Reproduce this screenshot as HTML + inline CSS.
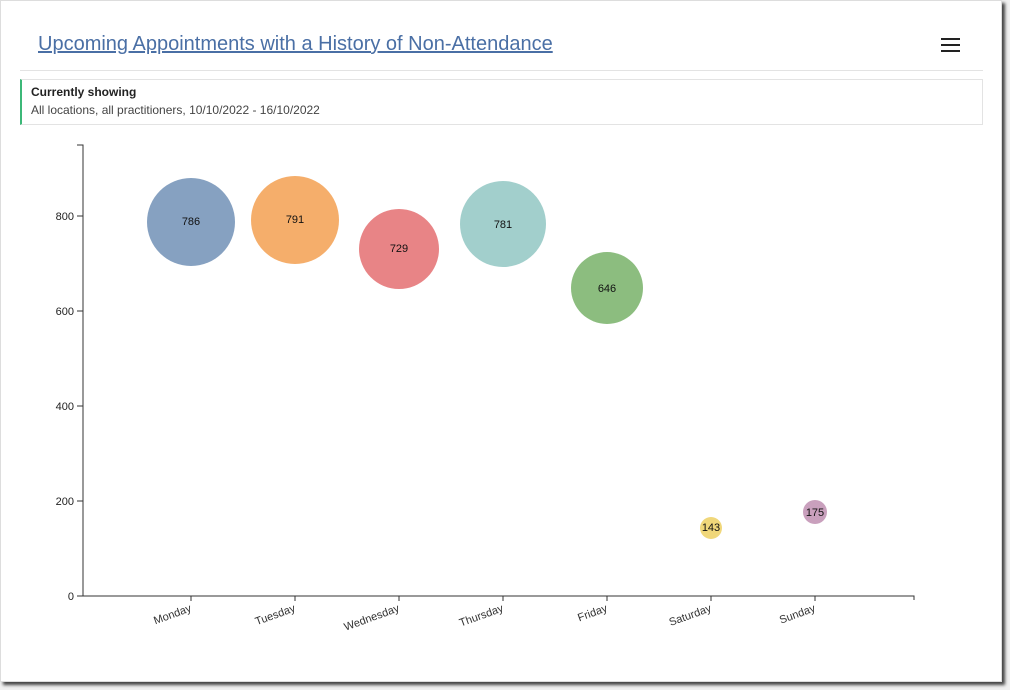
<!DOCTYPE html>
<html><head><meta charset="utf-8"><style>
body{margin:0;width:1010px;height:690px;background:#f0f0f0;position:relative;overflow:hidden;font-family:"Liberation Sans",sans-serif}
.card{position:absolute;left:0;top:0;width:1002px;height:682px;background:#fff;outline:1px solid #ddd;outline-offset:-1px;box-shadow:3px 3px 3px #444}
.title{position:absolute;left:38px;top:33px;font-size:20px;color:#4a6fa5;text-decoration:underline;font-weight:300;letter-spacing:0px}
.hr{position:absolute;left:20px;top:70px;width:963px;height:1px;background:#e3e3e3}
.menu{position:absolute;left:941px;top:38px;width:19px}
.menu div{height:2px;background:#222;margin-bottom:4px}
.info{position:absolute;left:20px;top:79px;width:963px;height:46px;border:1px solid #e3e3e3;border-left:2px solid #3cb878;box-sizing:border-box}
.info b{position:absolute;left:9px;top:5px;font-size:12px;color:#222}
.info span{position:absolute;left:9px;top:23px;font-size:12px;color:#444}
</style></head><body>
<div class="card">
<div class="title">Upcoming Appointments with a History of Non-Attendance</div>
<div class="menu"><div></div><div></div><div></div></div>
<div class="hr"></div>
<div class="info"><b>Currently showing</b><span>All locations, all practitioners, 10/10/2022 - 16/10/2022</span></div>
<svg width="1002" height="682" style="position:absolute;left:0;top:0" font-family="Liberation Sans, sans-serif" font-size="11">
<g stroke="#333" fill="none">
<path d="M77 145H83V596H914V600"/>
<path d="M77 216H83M77 311H83M77 406H83M77 501H83M77 596H83"/>
<path d="M191 596v5M295 596v5M399 596v5M503 596v5M607 596v5M711 596v5M815 596v5"/>
</g>
<g text-anchor="end" fill="#222">
<text x="74" y="220">800</text><text x="74" y="315">600</text><text x="74" y="410">400</text><text x="74" y="505">200</text><text x="74" y="600">0</text>
</g>
<g text-anchor="end" fill="#333" font-size="11">
<text transform="translate(192,611) rotate(-20)">Monday</text>
<text transform="translate(296,611) rotate(-20)">Tuesday</text>
<text transform="translate(400,611) rotate(-20)">Wednesday</text>
<text transform="translate(504,611) rotate(-20)">Thursday</text>
<text transform="translate(608,611) rotate(-20)">Friday</text>
<text transform="translate(712,611) rotate(-20)">Saturday</text>
<text transform="translate(816,611) rotate(-20)">Sunday</text>
</g>
<circle cx="191" cy="222" r="44" fill="#86a1c1"/>
<circle cx="295" cy="220" r="44" fill="#f5ae6b"/>
<circle cx="399" cy="249" r="40" fill="#e88486"/>
<circle cx="503" cy="224" r="43" fill="#a2cfcc"/>
<circle cx="607" cy="288" r="36" fill="#8cbd7f"/>
<circle cx="711" cy="528" r="11" fill="#f0d77a"/>
<circle cx="815" cy="512" r="12" fill="#c9a0bd"/>
<g text-anchor="middle" fill="#111">
<text x="191" y="225">786</text><text x="295" y="223">791</text><text x="399" y="252">729</text><text x="503" y="228">781</text><text x="607" y="292">646</text><text x="711" y="531">143</text><text x="815" y="516">175</text>
</g>
</svg>
</div>
</body></html>
